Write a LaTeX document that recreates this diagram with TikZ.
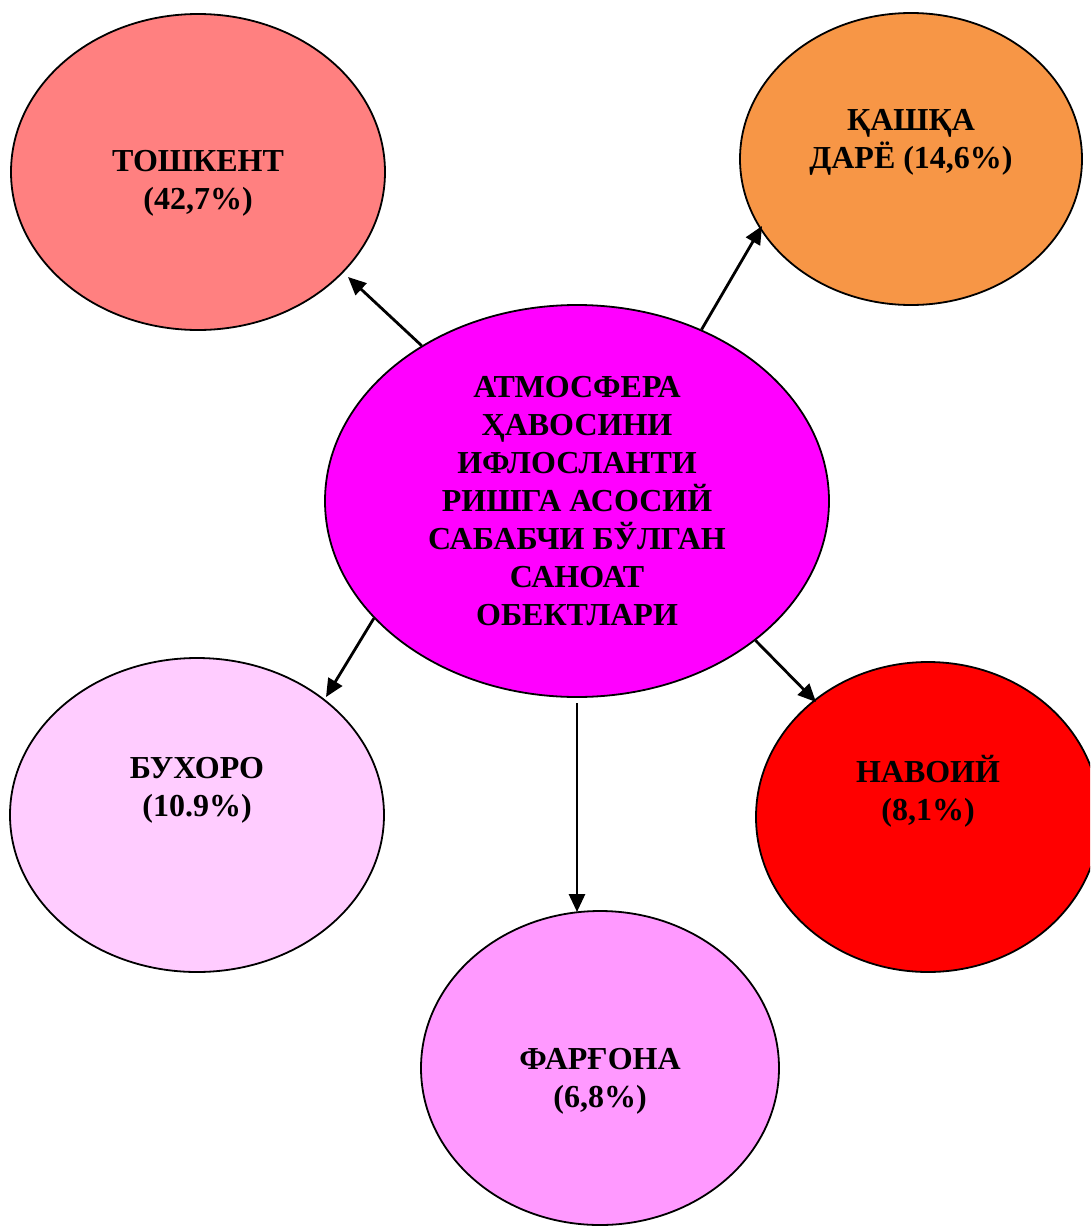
\documentclass[tikz,border=0pt]{standalone}
\usepackage{fontspec}
\setmainfont{Liberation Serif}
\usetikzlibrary{arrows.meta,shapes.geometric}
\definecolor{tashc}{HTML}{FF8080}
\definecolor{kashc}{HTML}{F79646}
\definecolor{mainc}{HTML}{FF00FF}
\definecolor{bukhc}{HTML}{FFCCFF}
\definecolor{navc}{HTML}{FF0000}
\definecolor{ferc}{HTML}{FF99FF}
\tikzset{
  region/.style={ellipse, draw=black, line width=1.8pt, inner sep=0pt},
  caption/.style={align=center, font=\fontsize{32}{38}\selectfont\bfseries, inner sep=0pt},
  link/.style={line width=2.8pt, -{Triangle[length=18pt,width=16pt]}}
}
\begin{document}
\begin{tikzpicture}[x=1pt,y=-1pt]
\useasboundingbox (0,0) rectangle (1090,1226);
\clip (0,0) rectangle (1090,1226);
\fill[white] (0,0) rectangle (1090,1226);

% regions
\node[region, fill=tashc, minimum width=374pt, minimum height=316pt] (tash) at (198,172) {};
\node[region, fill=kashc, minimum width=342pt, minimum height=292pt] (kash) at (911,159) {};
\node[region, fill=mainc, minimum width=504pt, minimum height=392pt] (main) at (577,501) {};
\node[region, fill=bukhc, minimum width=374pt, minimum height=314pt] (bukh) at (197,815) {};
\node[region, fill=navc, minimum width=344pt, minimum height=310pt] (nav) at (928,817) {};
\node[region, fill=ferc, minimum width=358pt, minimum height=314pt] (fer) at (600,1068) {};

% captions
\node[caption] (tasht) at (198,183) {ТОШКЕНТ\\(42,7\%)};
\node[caption] (kasht) at (911,142.5) {ҚАШҚА\\ДАРЁ (14,6\%)};
\node[caption] (maint) at (577,501) {АТМОСФЕРА\\ҲАВОСИНИ\\ИФЛОСЛАНТИ\\РИШГА АСОСИЙ\\САБАБЧИ БЎЛГАН\\САНОАТ\\ОБЕКТЛАРИ};
\node[caption] (bukht) at (197,790.5) {БУХОРО\\(10.9\%)};
\node[caption] (navt) at (928,791.5) {НАВОИЙ\\(8,1\%)};
\node[caption] (fert) at (600,1081.5) {ФАРҒОНА\\(6,8\%)};

% arrow tips
\coordinate (tTip) at (348,277);
\coordinate (kTip) at (762,226);
\coordinate (bTip) at (326,697);
\coordinate (nTip) at (816,702);
\coordinate (fTip) at (577,912);
\coordinate (fTail) at (577,703);

% connectors
\draw[link] (main.135.5) -- (tTip);
\draw[link] (main.54) -- (kTip);
\draw[link] (main.210.6) -- (bTip);
\draw[link] (main.-38) -- (nTip);
\draw[link] (fTail) -- (fTip);
\end{tikzpicture}
\end{document}
